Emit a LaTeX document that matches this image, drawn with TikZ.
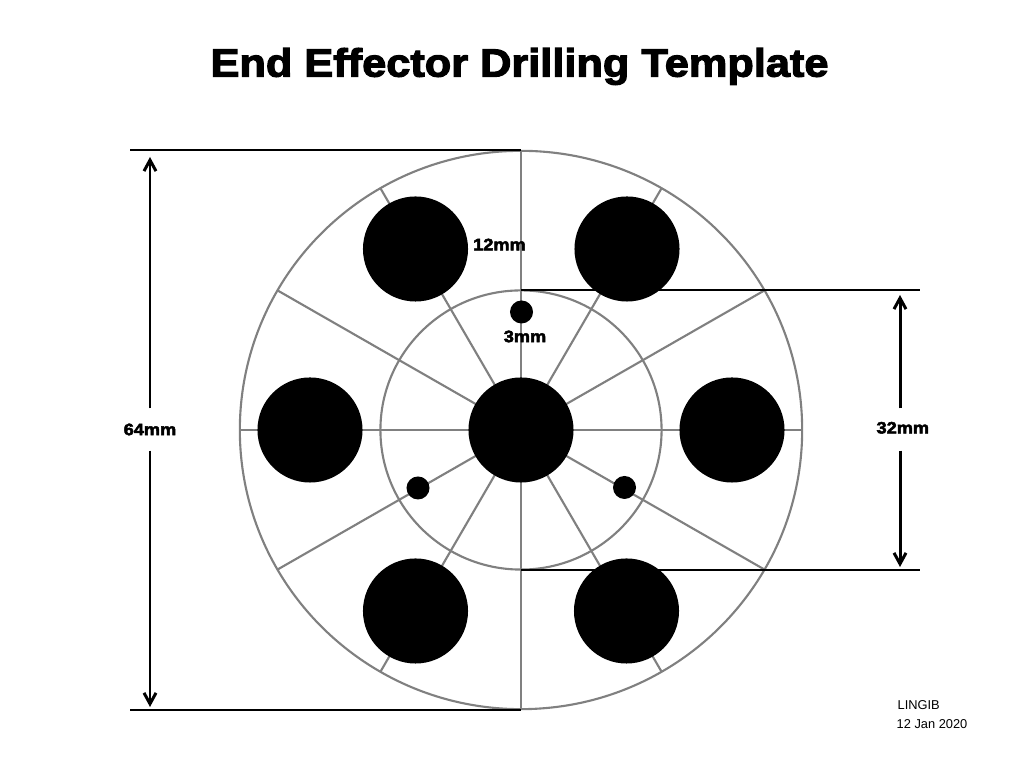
\documentclass[tikz,border=0pt]{standalone}
\usepackage{fontspec}
\usetikzlibrary{arrows.meta}
\setmainfont{Liberation Sans}
\newfontfamily\heavyfont[FakeBold=3,FakeStretch=1.1]{Liberation Sans Bold}

\def\outerRx{2.81cm}
\def\outerRy{2.79cm}
\def\innerRx{1.405cm}
\def\innerRy{1.395cm}

\tikzset{
    plate/.style = {draw = black!50, line width = 0.6pt},
    hole/.style = {circle, fill = black, inner sep = 0, minimum size = 1.05cm},
    pilot/.style = {circle, fill = black, inner sep = 0, minimum size = 0.23cm},
    extline/.style = {black, line width = 0.6pt},
    dimline/.style = {black, line width = 0.85pt, -{Straight Barb[length = 1.1mm, width = 1.2mm, line width = 0.85pt]}},
    dimlabel/.style = {inner sep = 0, font = \heavyfont\fontsize{4.7pt}{5pt}\selectfont},
    gaplabel/.style = {dimlabel, minimum height = 0.41cm},
    stamp/.style = {inner sep = 0, anchor = west, font = \fontsize{3.65pt}{4pt}\selectfont}
}

\begin{document}
\begin{tikzpicture}[x = 0.01cm, y = -0.01cm]
            \useasboundingbox [fill = white] (0,0) rectangle (1024,768);
            \node [inner sep = 0, font = \heavyfont\fontsize{11.2pt}{13pt}\selectfont] (title) at (519.5,66.5) {End Effector Drilling Template};

            \coordinate (hub) at (521,430);
            %% spokes first, holes sit on top of them
            \foreach \a in {0,30,...,330} {
                \coordinate (rim\a) at ([shift = {(\a:2.81cm and 2.79cm)}] hub);
                \draw [plate] (hub) -- (rim\a);
            }
            \draw [plate]
            (hub) ellipse [x radius = \outerRx, y radius = \outerRy]
            (hub) ellipse [x radius = \innerRx, y radius = \innerRy]
            ;

            \node [hole] (holeC) at (hub) {};
            \node [hole] (holeW) at (310,430) {};
            \node [hole] (holeE) at (732,430) {};
            \node [hole] (holeNW) at (415.5,249) {};
            \node [hole] (holeNE) at (627,249) {};
            \node [hole] (holeSW) at (415.5,611) {};
            \node [hole] (holeSE) at (626.5,611) {};
            \node [pilot] (pilotN) at (521.5,312) {};
            \node [pilot] (pilotSW) at (418,488) {};
            \node [pilot] (pilotSE) at (624.5,487.5) {};

            \coordinate (leftTop) at (130,150);
            \coordinate (leftBot) at (130,710);
            \coordinate (plateTop) at (520.5,150);
            \coordinate (plateBot) at (520.5,710);
            \coordinate (rightTop) at (920,290);
            \coordinate (rightBot) at (920,570);
            \coordinate (ringTop) at (520.5,290);
            \coordinate (ringBot) at (520.5,570);
            \draw [extline] (leftTop) -- (plateTop);
            \draw [extline] (leftBot) -- (plateBot);
            \draw [extline] (ringTop) -- (rightTop);
            \draw [extline] (ringBot) -- (rightBot);

            \node [gaplabel] (dimOuter) at (150,429.5) {64mm};
            \coordinate (outerUp) at (150,157);
            \coordinate (outerDown) at (150,707);
            \draw [dimline] (dimOuter) -- (outerUp);
            \draw [dimline] (dimOuter) -- (outerDown);

            \node [gaplabel] (dimInner) at (900,429.5) {\raisebox{1pt}{\hspace{1.6pt}32mm}};
            \coordinate (innerUp) at (900,295);
            \coordinate (innerDown) at (900,567);
            \draw [dimline] (dimInner) -- (innerUp);
            \draw [dimline] (dimInner) -- (innerDown);

            \node [dimlabel] (dimHole) at (499.5,244.5) {12mm};
            \node [dimlabel] (dimPilot) at (525,336.5) {3mm};

            \node [stamp] (stampName) at (897,705) {LINGIB};
            \node [stamp] (stampDate) at (896,724) {12 Jan 2020};
        \end{tikzpicture}
\end{document}
